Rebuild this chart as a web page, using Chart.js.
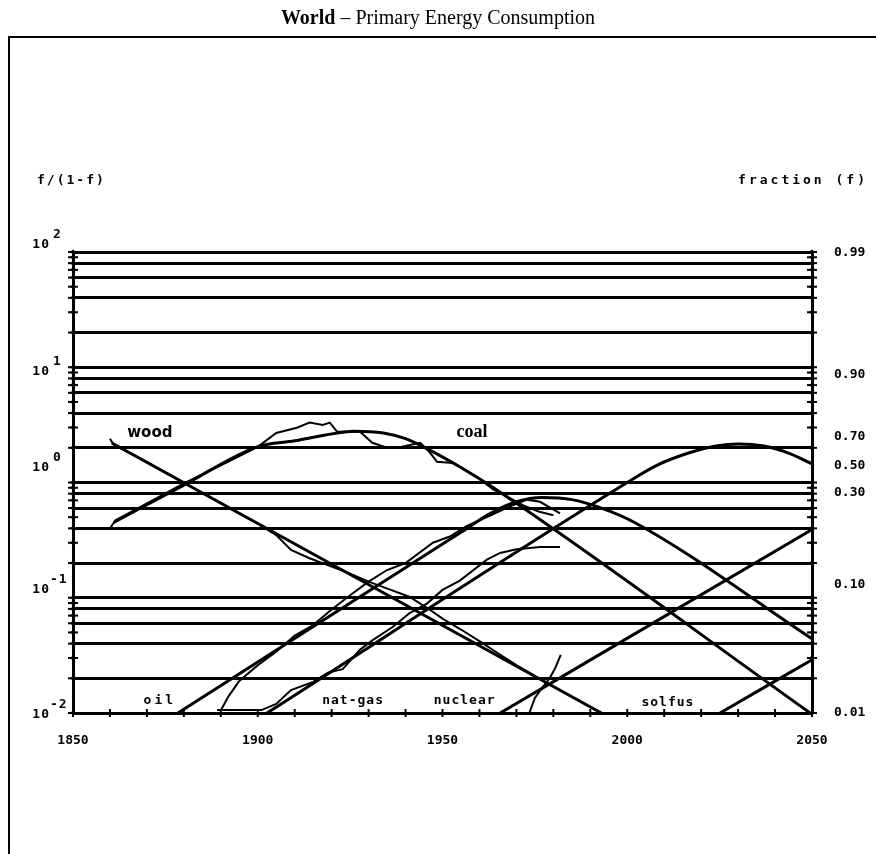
<!DOCTYPE html>
<html lang="en">
<head>
    <meta charset="UTF-8">
    <title>World - Primary Energy Consumption</title>
    <script src="https://cdn.jsdelivr.net/npm/chart.js"></script>
    <style>
        html, body { margin: 0; padding: 0; background: #fff; }
        #wrap { width: 876px; height: 854px; }
    </style>
</head>
<body>
    <div id="wrap"><canvas id="chart" width="876" height="854"></canvas></div>

    <script>
        // Axis ticks and labels
        const xLabelYears = [1850, 1900, 1950, 2000, 2050];
        const xMinorYears = [1850, 1860, 1870, 1880, 1890, 1900, 1910, 1920, 1930, 1940, 1950,
                             1960, 1970, 1980, 1990, 2000, 2010, 2020, 2030, 2040, 2050];
        const yGridValues = [0.01, 0.02, 0.04, 0.06, 0.08, 0.1, 0.2, 0.4, 0.6, 0.8,
                             1, 2, 4, 6, 8, 10, 20, 40, 60, 80, 100];
        const yMinorTicks = [0.01, 0.02, 0.03, 0.04, 0.05, 0.06, 0.07, 0.08, 0.09,
                             0.1, 0.2, 0.3, 0.4, 0.5, 0.6, 0.7, 0.8, 0.9,
                             1, 2, 3, 4, 5, 6, 7, 8, 9,
                             10, 20, 30, 40, 50, 60, 70, 80, 90, 100];
        const powerValues = [100, 10, 1, 0.1, 0.01];
        const powerExps = ['2', '1', '0', '-1', '-2'];
        const fracValues = [99, 9, 2.333, 1, 0.4286, 0.1111, 0.0101];
        const fracLabels = ['0.99', '0.90', '0.70', '0.50', '0.30', '0.10', '0.01'];

        // Logistic substitution model curves, f/(1-f)
        const woodModelYears = [1860.5, 1993];
        const woodModelVals = [2.2, 0.01];
        const coalModelYears = [1861, 1880, 1900, 1910, 1918, 1926, 1934, 1940, 1946, 1955, 1964, 2049.5];
        const coalModelVals = [0.45, 0.95, 2.05, 2.3, 2.57, 2.79, 2.69, 2.4, 1.95, 1.35, 0.89, 0.01];
        const oilModelYears = [1878.4, 1955, 1963, 1970, 1977, 1985, 1993, 2002, 2050];
        const oilModelVals = [0.01, 0.37, 0.54, 0.68, 0.74, 0.71, 0.60, 0.45, 0.044];
        const gasModelYears = [1902.5, 2000, 2008, 2017, 2024, 2030, 2037, 2044, 2050];
        const gasModelVals = [0.01, 1.0, 1.41, 1.82, 2.07, 2.16, 2.07, 1.78, 1.45];
        const nuclearModelYears = [1965.6, 2050];
        const nuclearModelVals = [0.01, 0.39];
        const solfusModelYears = [2025.1, 2050];
        const solfusModelVals = [0.01, 0.029];

        // Historical data, f/(1-f)
        const woodDataYears = [1860, 1861, 1870, 1880, 1890, 1900, 1905, 1909, 1914, 1920, 1925,
                               1930, 1936, 1941, 1946, 1950, 1955, 1960, 1965, 1970, 1975];
        const woodDataVals = [2.40, 2.14, 1.51, 1.0, 0.66, 0.44, 0.35, 0.26, 0.22, 0.186, 0.162,
                              0.138, 0.117, 0.102, 0.081, 0.066, 0.053, 0.042, 0.033, 0.026, 0.021];
        const coalDataYears = [1860, 1861.5, 1870, 1880, 1890, 1900, 1905, 1910.6, 1914, 1917.6, 1919.5,
                               1921.5, 1927.7, 1931, 1935, 1939, 1944, 1946.6, 1948.5, 1952.8, 1959.3,
                               1963.7, 1968, 1972, 1976, 1980];
        const coalDataVals = [0.40, 0.47, 0.66, 0.98, 1.41, 2.04, 2.69, 2.99, 3.31, 3.16, 3.31,
                              2.75, 2.75, 2.21, 2.0, 2.04, 2.21, 1.82, 1.51, 1.48, 1.12,
                              0.87, 0.74, 0.63, 0.56, 0.52];
        const oilDataYears = [1890, 1892, 1895, 1900, 1905, 1910, 1915, 1920, 1925, 1930, 1935, 1940,
                              1947.4, 1952, 1956.6, 1962, 1968.3, 1972.9, 1976.4, 1981.8];
        const oilDataVals = [0.0105, 0.0138, 0.019, 0.026, 0.034, 0.047, 0.058, 0.079, 0.105, 0.138, 0.174, 0.20,
                             0.30, 0.34, 0.42, 0.50, 0.62, 0.71, 0.68, 0.54];
        const gasDataYears = [1889, 1901, 1905, 1909, 1915, 1919, 1923, 1927.7, 1931, 1936.6, 1941.2,
                              1945.8, 1950, 1954.7, 1962, 1965.6, 1970, 1976.4, 1981.8];
        const gasDataVals = [0.0106, 0.0106, 0.012, 0.0158, 0.0186, 0.0224, 0.024, 0.0355, 0.0427, 0.056, 0.074,
                             0.089, 0.117, 0.141, 0.214, 0.245, 0.263, 0.275, 0.275];
        const nuclearDataYears = [1973.5, 1975, 1977, 1979, 1980.5, 1982];
        const nuclearDataVals = [0.01, 0.0135, 0.0166, 0.02, 0.0245, 0.032];

        // Series names written on the plot
        const seriesNames = ['wood', 'coal', 'oil', 'nat-gas', 'nuclear', 'solfus'];

        const toPoints = (xs, ys) => xs.map((x, i) => ({ x: x, y: ys[i] }));

        const modelLine = (xs, ys) => ({
            data: toPoints(xs, ys),
            borderColor: '#000',
            borderWidth: 3,
            cubicInterpolationMode: 'monotone',
            pointRadius: 0,
            yAxisID: 'y'
        });
        const dataLine = (xs, ys) => ({
            data: toPoints(xs, ys),
            borderColor: '#000',
            borderWidth: 2,
            tension: 0,
            pointRadius: 0,
            yAxisID: 'y'
        });

        const mono = '"DejaVu Sans Mono", monospace';

        function spaced(ctx, px) {
            if ('letterSpacing' in ctx) ctx.letterSpacing = px + 'px';
        }

        // Title, frame, captions, tick crosses and labels
        const decor = {
            id: 'decor',
            afterDraw(chart) {
                const { ctx, chartArea: a, scales } = chart;
                const xs = scales.x, ys = scales.y;
                ctx.save();
                ctx.fillStyle = '#000';
                ctx.strokeStyle = '#000';

                // frame
                ctx.lineWidth = 2;
                ctx.beginPath();
                ctx.moveTo(9, 854);
                ctx.lineTo(9, 37);
                ctx.lineTo(876, 37);
                ctx.stroke();

                // title
                ctx.textBaseline = 'middle';
                ctx.textAlign = 'left';
                const boldTitle = 'bold 20px "Liberation Serif", serif';
                const plainTitle = '20px "Liberation Serif", serif';
                ctx.font = boldTitle;
                const w1 = ctx.measureText('World').width;
                ctx.font = plainTitle;
                const rest = ' \u2013 Primary Energy Consumption';
                const w2 = ctx.measureText(rest).width;
                const tx = 438 - (w1 + w2) / 2;
                ctx.font = boldTitle;
                ctx.fillText('World', tx, 19);
                ctx.font = plainTitle;
                ctx.fillText(rest, tx + w1, 19);

                // axis captions
                ctx.font = 'bold 13px ' + mono;
                spaced(ctx, 2);
                ctx.fillText('f/(1-f)', 37, 181);
                ctx.textAlign = 'right';
                spaced(ctx, 3);
                ctx.fillText('fraction (f)', 868, 181);

                // tick crosses on both value axes and the year axis
                ctx.lineWidth = 2;
                yMinorTicks.forEach(v => {
                    const py = ys.getPixelForValue(v);
                    [a.left, a.right].forEach(px => {
                        ctx.beginPath();
                        ctx.moveTo(px - 5, py);
                        ctx.lineTo(px + 5, py);
                        ctx.stroke();
                        ctx.beginPath();
                        ctx.moveTo(px - 3, py);
                        ctx.lineTo(px, py - 2.5);
                        ctx.lineTo(px + 3, py);
                        ctx.lineTo(px, py + 2.5);
                        ctx.closePath();
                        ctx.fill();
                    });
                });
                xMinorYears.forEach(yr => {
                    const px = xs.getPixelForValue(yr);
                    ctx.beginPath();
                    ctx.moveTo(px, a.bottom - 4);
                    ctx.lineTo(px, a.bottom + 4);
                    ctx.stroke();
                });

                // left labels: powers of ten
                const powerNudge = [-7, 4, -15, -8, 2];
                powerValues.forEach((v, i) => {
                    const py = ys.getPixelForValue(v) + powerNudge[i];
                    ctx.font = 'bold 13px ' + mono;
                    spaced(ctx, 1);
                    ctx.textAlign = 'right';
                    ctx.fillText('10', 50, py);
                    ctx.textAlign = 'left';
                    ctx.fillText(powerExps[i], powerExps[i].length > 1 ? 50 : 53, py - 10);
                });

                // right labels: fraction f
                const fracNudge = [0, 2, -3, -17, -32, -8, 0];
                ctx.font = 'bold 13px ' + mono;
                spaced(ctx, 0);
                ctx.textAlign = 'left';
                fracValues.forEach((v, i) => {
                    ctx.fillText(fracLabels[i], 834, ys.getPixelForValue(v) + fracNudge[i]);
                });

                // series names on the plot
                const at = (yr, v) => [xs.getPixelForValue(yr), ys.getPixelForValue(v)];
                ctx.textAlign = 'center';
                let p;
                ctx.font = 'bold 15px "DejaVu Sans", sans-serif';
                spaced(ctx, 0);
                p = at(1870.8, 2.7); ctx.fillText(seriesNames[0], p[0], p[1]);
                ctx.font = 'bold 18px "Liberation Serif", serif';
                p = at(1958, 2.7); ctx.fillText(seriesNames[1], p[0], p[1]);
                ctx.font = 'bold 13px ' + mono;
                spaced(ctx, 3);
                p = at(1873.5, 0.0129); ctx.fillText(seriesNames[2], p[0], p[1]);
                spaced(ctx, 1);
                p = at(1925.8, 0.0129); ctx.fillText(seriesNames[3], p[0], p[1]);
                p = at(1956, 0.0129); ctx.fillText(seriesNames[4], p[0], p[1]);
                p = at(2011, 0.0123); ctx.fillText(seriesNames[5], p[0], p[1]);

                ctx.restore();
            }
        };

        new Chart(document.getElementById('chart'), {
            type: 'line',
            data: {
                datasets: [
                    modelLine(woodModelYears, woodModelVals),
                    modelLine(coalModelYears, coalModelVals),
                    modelLine(oilModelYears, oilModelVals),
                    modelLine(gasModelYears, gasModelVals),
                    modelLine(nuclearModelYears, nuclearModelVals),
                    modelLine(solfusModelYears, solfusModelVals),
                    dataLine(woodDataYears, woodDataVals),
                    dataLine(coalDataYears, coalDataVals),
                    dataLine(oilDataYears, oilDataVals),
                    dataLine(gasDataYears, gasDataVals),
                    dataLine(nuclearDataYears, nuclearDataVals)
                ]
            },
            options: {
                responsive: false,
                animation: false,
                devicePixelRatio: 1,
                layout: { padding: { top: 252, bottom: 101, left: 0, right: 0 } },
                plugins: {
                    legend: { display: false },
                    tooltip: { enabled: false }
                },
                scales: {
                    x: {
                        type: 'linear',
                        min: 1850,
                        max: 2050,
                        grid: { drawOnChartArea: false, drawTicks: false },
                        border: { color: '#000', width: 3 },
                        ticks: {
                            color: '#000',
                            font: { family: mono, size: 13, weight: 'bold' },
                            padding: 20,
                            maxRotation: 0,
                            autoSkip: false,
                            callback: v => String(v)
                        },
                        afterBuildTicks: s => { s.ticks = xLabelYears.map(v => ({ value: v })); },
                        afterFit: s => { s.height = 40; }
                    },
                    y: {
                        type: 'logarithmic',
                        position: 'left',
                        min: 0.01,
                        max: 100,
                        grid: { color: '#000', lineWidth: 3, drawTicks: false },
                        border: { color: '#000', width: 3 },
                        ticks: { display: false },
                        afterBuildTicks: s => { s.ticks = yGridValues.map(v => ({ value: v })); },
                        afterFit: s => { s.width = 73; }
                    },
                    y2: {
                        type: 'logarithmic',
                        position: 'right',
                        min: 0.01,
                        max: 100,
                        grid: { drawOnChartArea: false, drawTicks: false },
                        border: { color: '#000', width: 3 },
                        ticks: { display: false },
                        afterFit: s => { s.width = 64; }
                    }
                }
            },
            plugins: [decor]
        });
    </script>
</body>
</html>
